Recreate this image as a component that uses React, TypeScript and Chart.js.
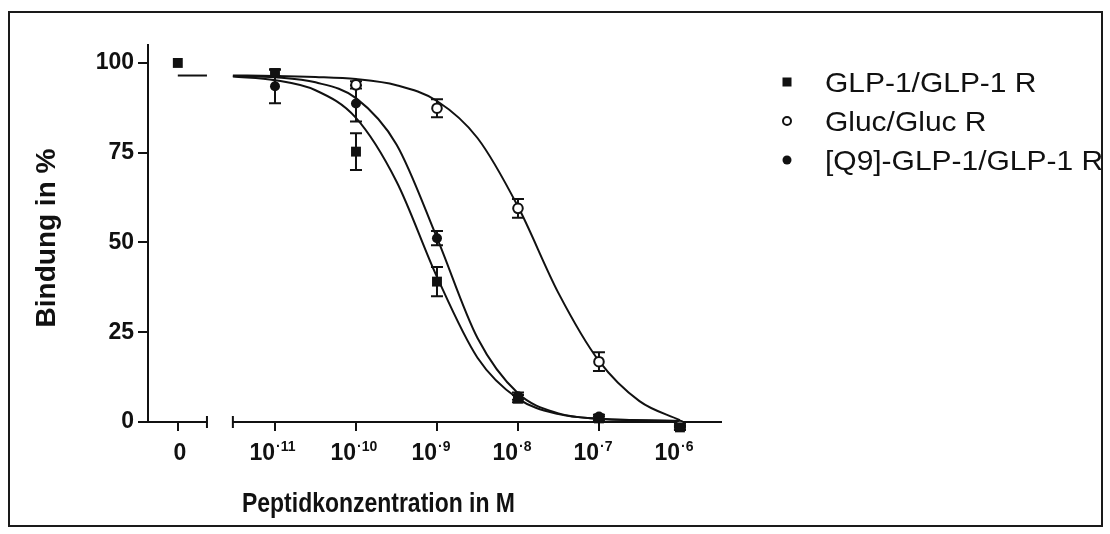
import React, { useEffect, useRef } from "react";
import { Chart, registerables } from "chart.js";

Chart.register(...registerables);

// ---------- data ----------
const SERIES_LABELS = ["GLP-1/GLP-1 R", "Gluc/Gluc R", "[Q9]-GLP-1/GLP-1 R"];
const X_TITLE = "Peptidkonzentration in M";
const Y_TITLE = "Bindung in %";

// axis position used for the "0" concentration on the broken axis
const ZERO_X = -12.2;

// log10 of concentration (M)
const LOG_CONC = [-11, -10, -9, -8, -7, -6];

const GLP_ZERO_VALUE = 100;
const GLP_VALUES = [97.2, 75.3, 39.1, 6.5, 1.0, -1.5];
const GLP_ERRORS = [1.0, 5.1, 4.1, 1.0, 0.5, 0.5];

const GLUC_CONC = [-10, -9, -8, -7, -6];
const GLUC_VALUES = [93.9, 87.4, 59.5, 16.8, -1.0];
const GLUC_ERRORS = [1.0, 2.5, 2.6, 2.6, 0.5];

const Q9_VALUES = [93.5, 88.7, 51.2, 7.2, 1.5, -1.7];
const Q9_ERRORS = [4.7, 5.0, 2.0, 1.0, 0.5, 0.5];

// fitted curves
const CURVE_X = [-11.52, -11, -10.5, -10, -9.5, -9, -8.5, -8, -7.5, -7, -6.5, -6];
const GLP_CURVE = [96.2, 95.2, 92.4, 84.7, 67.0, 40.4, 17.9, 6.5, 2.2, 0.9, 0.5, 0.3];
const GLUC_CURVE = [96.5, 96.4, 96.1, 95.5, 93.8, 89.4, 79.1, 60.0, 35.9, 17.0, 5.8, 0.5];
const Q9_CURVE = [96.4, 96.0, 94.6, 90.2, 77.3, 51.3, 23.4, 8.0, 2.4, 0.9, 0.5, 0.3];

// plateau stub in the "0" segment
const PLATEAU_X = [-12.2, -11.84];
const PLATEAU_Y = [96.5, 96.5];

const X_TICK_VALUES = [ZERO_X, -11, -10, -9, -8, -7, -6];
const X_TICK_BASES = ["0", "10", "10", "10", "10", "10", "10"];
const X_TICK_EXPONENTS = ["", "-11", "-10", "-9", "-8", "-7", "-6"];
const Y_TICK_VALUES = [0, 25, 50, 75, 100];

// axis break
const X_MIN = -12.568;
const X_MAX = -5.481;
const BREAK_LEFT_END = -11.84;
const BREAK_RIGHT_START = -11.52;

const INK = "#111111";
const FONT = "'Liberation Sans', Arial, Helvetica, sans-serif";

const pts = (xs: number[], ys: number[]) => xs.map((x, i) => ({ x, y: ys[i] }));

const axisPlugin = {
  id: "brokenAxis",
  beforeDatasetsDraw(chart: any) {
    const { ctx, chartArea, scales } = chart;
    const xs = scales.x;
    const y0 = scales.y.getPixelForValue(0);
    const l = chartArea.left - 10;
    const e1 = xs.getPixelForValue(BREAK_LEFT_END);
    const s2 = xs.getPixelForValue(BREAK_RIGHT_START);
    const r = chartArea.right;
    ctx.save();
    ctx.strokeStyle = INK;
    ctx.lineWidth = 2;
    ctx.beginPath();
    ctx.moveTo(l, y0);
    ctx.lineTo(e1, y0);
    ctx.moveTo(e1, y0 - 6);
    ctx.lineTo(e1, y0 + 6);
    ctx.moveTo(s2, y0 - 6);
    ctx.lineTo(s2, y0 + 6);
    ctx.moveTo(s2, y0);
    ctx.lineTo(r, y0);
    ctx.stroke();
    ctx.restore();
  },
};

const errorBarPlugin = {
  id: "errorBars",
  beforeDatasetsDraw(chart: any) {
    const { ctx, scales } = chart;
    ctx.save();
    ctx.strokeStyle = INK;
    ctx.lineWidth = 2;
    chart.data.datasets.forEach((ds: any, di: number) => {
      if (!ds.errors) return;
      const meta = chart.getDatasetMeta(di);
      meta.data.forEach((el: any, i: number) => {
        const e = ds.errors[i];
        if (!e) return;
        const v = ds.data[i].y;
        const top = scales.y.getPixelForValue(v + e);
        const bot = scales.y.getPixelForValue(v - e);
        ctx.beginPath();
        ctx.moveTo(el.x, top);
        ctx.lineTo(el.x, bot);
        ctx.moveTo(el.x - 6, top);
        ctx.lineTo(el.x + 6, top);
        ctx.moveTo(el.x - 6, bot);
        ctx.lineTo(el.x + 6, bot);
        ctx.stroke();
      });
    });
    ctx.restore();
  },
};

const xTickLabelPlugin = {
  id: "xTickLabels",
  afterDraw(chart: any) {
    const { ctx, scales } = chart;
    const xs = scales.x;
    ctx.save();
    ctx.fillStyle = INK;
    ctx.textBaseline = "alphabetic";
    X_TICK_VALUES.forEach((v, i) => {
      const px = xs.getPixelForValue(v);
      const base = X_TICK_BASES[i];
      const exp = X_TICK_EXPONENTS[i];
      ctx.font = `bold 23px ${FONT}`;
      if (!exp) {
        ctx.textAlign = "center";
        ctx.fillText(base, px + 2, 460);
      } else {
        ctx.textAlign = "right";
        ctx.fillText(base, px, 460);
        ctx.font = `bold 14px ${FONT}`;
        ctx.textAlign = "left";
        ctx.fillText(exp.replace("-", "\u00B7"), px + 1, 451);
      }
    });
    ctx.restore();
  },
};

const textPlugin = {
  id: "texts",
  afterDraw(chart: any) {
    const { ctx } = chart;
    ctx.save();
    ctx.fillStyle = INK;
    // x title
    ctx.font = `bold 28px ${FONT}`;
    const w = ctx.measureText(X_TITLE).width;
    const sx = 273 / w;
    ctx.save();
    ctx.translate(378.5, 512);
    ctx.scale(sx, 1);
    ctx.textAlign = "center";
    ctx.textBaseline = "alphabetic";
    ctx.fillText(X_TITLE, 0, 0);
    ctx.restore();
    // y title
    ctx.save();
    ctx.translate(55, 238);
    ctx.rotate(-Math.PI / 2);
    ctx.textAlign = "center";
    ctx.textBaseline = "alphabetic";
    ctx.fillText(Y_TITLE, 0, 0);
    ctx.restore();
    // legend
    const rows = [82, 121, 160];
    const legendSets = chart.data.datasets.filter((d: any) => d.inLegend);
    legendSets.forEach((ds: any, i: number) => {
      const cy = rows[i];
      const mx = 787;
      ctx.beginPath();
      ctx.lineWidth = 2;
      ctx.strokeStyle = INK;
      ctx.fillStyle = INK;
      if (ds.pointStyle === "rect") {
        ctx.fillRect(mx - 4.5, cy - 4.5, 9, 9);
      } else if (ds.pointBackgroundColor === "#ffffff") {
        ctx.arc(mx, cy, 4, 0, Math.PI * 2);
        ctx.stroke();
      } else {
        ctx.arc(mx, cy, 4.5, 0, Math.PI * 2);
        ctx.fill();
      }
      ctx.save();
      ctx.font = `28px ${FONT}`;
      ctx.translate(825, cy + 10);
      ctx.scale(1.07, 1);
      ctx.textAlign = "left";
      ctx.textBaseline = "alphabetic";
      ctx.fillStyle = INK;
      ctx.fillText(ds.label, 0, 0);
      ctx.restore();
    });
    ctx.restore();
  },
};

export default function App() {
  const ref = useRef<HTMLCanvasElement | null>(null);

  useEffect(() => {
    if (!ref.current) return;
    Chart.defaults.font.family = FONT;
    const lineBase = {
      type: "line" as const,
      borderColor: INK,
      borderWidth: 2,
      pointRadius: 0,
      fill: false,
      cubicInterpolationMode: "monotone" as const,
      clip: false as any,
      order: 5,
    };
    const chart = new Chart(ref.current, {
      type: "scatter",
      data: {
        datasets: [
          {
            label: SERIES_LABELS[0],
            inLegend: true,
            data: [{ x: ZERO_X, y: GLP_ZERO_VALUE }, ...pts(LOG_CONC, GLP_VALUES)],
            errors: [0, ...GLP_ERRORS],
            pointStyle: "rect",
            pointRadius: 7,
            pointBackgroundColor: INK,
            pointBorderColor: INK,
            pointBorderWidth: 0,
            showLine: false,
            clip: false,
            order: 1,
          } as any,
          {
            label: SERIES_LABELS[1],
            inLegend: true,
            data: pts(GLUC_CONC, GLUC_VALUES),
            errors: GLUC_ERRORS,
            pointStyle: "circle",
            pointRadius: 4.8,
            pointBackgroundColor: "#ffffff",
            pointBorderColor: INK,
            pointBorderWidth: 2,
            showLine: false,
            clip: false,
            order: 2,
          } as any,
          {
            label: SERIES_LABELS[2],
            inLegend: true,
            data: pts(LOG_CONC, Q9_VALUES),
            errors: Q9_ERRORS,
            pointStyle: "circle",
            pointRadius: 5,
            pointBackgroundColor: INK,
            pointBorderColor: INK,
            pointBorderWidth: 0,
            showLine: false,
            clip: false,
            order: 0,
          } as any,
          { ...lineBase, label: "GLP-1 fit", data: pts(CURVE_X, GLP_CURVE) } as any,
          { ...lineBase, label: "Gluc fit", data: pts(CURVE_X, GLUC_CURVE) } as any,
          { ...lineBase, label: "Q9 fit", data: pts(CURVE_X, Q9_CURVE) } as any,
          { ...lineBase, label: "plateau", data: pts(PLATEAU_X, PLATEAU_Y) } as any,
        ],
      },
      options: {
        animation: false,
        responsive: false,
        maintainAspectRatio: false,
        layout: { padding: { left: 0, top: 45, right: 388, bottom: 0 } },
        plugins: { legend: { display: false }, tooltip: { enabled: false } },
        scales: {
          x: {
            type: "linear",
            min: X_MIN,
            max: X_MAX,
            afterBuildTicks: (s: any) => {
              s.ticks = X_TICK_VALUES.map((v) => ({ value: v }));
            },
            afterFit: (s: any) => {
              s.height = 112;
            },
            border: { display: false },
            grid: { display: true, drawOnChartArea: false, drawTicks: true, tickLength: 9, color: INK, lineWidth: 2 },
            ticks: {
              display: false,
              autoSkip: false,
              maxRotation: 0,
              minRotation: 0,
            },
          },
          y: {
            type: "linear",
            min: 0,
            max: 105,
            afterBuildTicks: (s: any) => {
              s.ticks = Y_TICK_VALUES.map((v) => ({ value: v }));
            },
            afterFit: (s: any) => {
              s.width = 148;
            },
            border: { display: true, color: INK, width: 2 },
            grid: { display: true, drawOnChartArea: false, drawTicks: true, tickLength: 10, color: INK, lineWidth: 2 },
            ticks: {
              padding: 4,
              color: INK,
              font: { size: 23, weight: "bold" },
              callback: (v: any) => String(v),
            },
          },
        },
      } as any,
      plugins: [axisPlugin, errorBarPlugin, xTickLabelPlugin, textPlugin],
    });
    return () => chart.destroy();
  }, []);

  return (
    <div>
      <canvas
        ref={ref}
        width={1110}
        height={534}
        style={{ position: "fixed", left: 0, top: 0, width: 1110, height: 534, display: "block" }}
      />
      <div
        style={{
          position: "fixed",
          left: 8,
          top: 11,
          width: 1091,
          height: 512,
          border: "2px solid #1a1a1a",
          pointerEvents: "none",
        }}
      />
    </div>
  );
}
